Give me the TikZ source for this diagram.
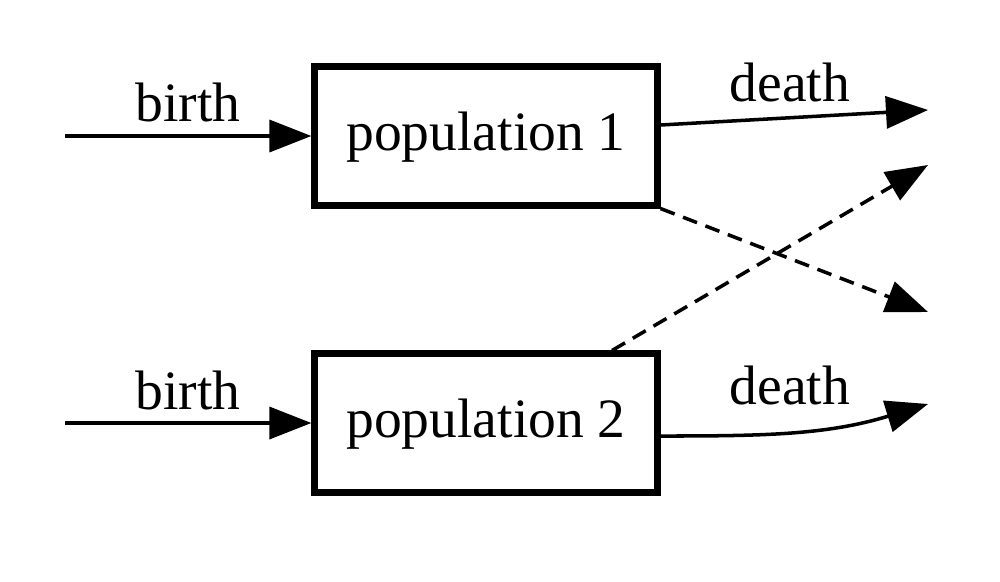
\documentclass[tikz,border=0pt]{standalone}
\usepackage{fontspec}
\setmainfont{Liberation Serif}
\usetikzlibrary{arrows.meta}

\tikzset{
  popbox/.style={draw, line width=2pt, minimum width=3.42cm, minimum height=1.38cm, inner sep=0pt, text depth=0.1cm},
  flow/.style={line width=1pt, -{Triangle[length=0.42cm,width=0.32cm]}},
  crossflow/.style={flow, dash pattern=on 0.15cm off 0.09cm},
  lbl/.style={inner sep=0pt}
}

\begin{document}
\begin{tikzpicture}[x=0.01cm, y=-0.01cm, font=\fontsize{15.8}{19}\selectfont]
    \useasboundingbox (0,0) rectangle (1000,581);
    \node[popbox] (pop1) at (486,136) {population 1};
    \node[popbox] (pop2) at (486,423) {population 2};
    \coordinate (birth1) at (65,136);
    \coordinate (birth2) at (65,423);
    \coordinate (death1) at (928,110);
    \coordinate (death2) at (928,404);
    \coordinate (cross1) at (928,312);
    \coordinate (cross2) at (928,165);
    \draw[flow] (birth1) -- (pop1.west);
    \draw[flow] (birth2) -- (pop2.west);
    \draw[flow] ([yshift=0.11cm]pop1.east) -- (death1);
    \draw[flow] ([yshift=-0.13cm]pop2.east) to[out=0,in=197] (death2);
    \draw[crossflow] (pop1.south east) -- (cross1);
    \draw[crossflow] ([xshift=1.26cm]pop2.north) -- (cross2);
    \node[lbl] (lbirth1) at (188,102) {birth};
    \node[lbl] (lbirth2) at (188,390) {birth};
    \node[lbl] (ldeath1) at (790,82) {death};
    \node[lbl] (ldeath2) at (790,385) {death};
  \end{tikzpicture}
\end{document}
